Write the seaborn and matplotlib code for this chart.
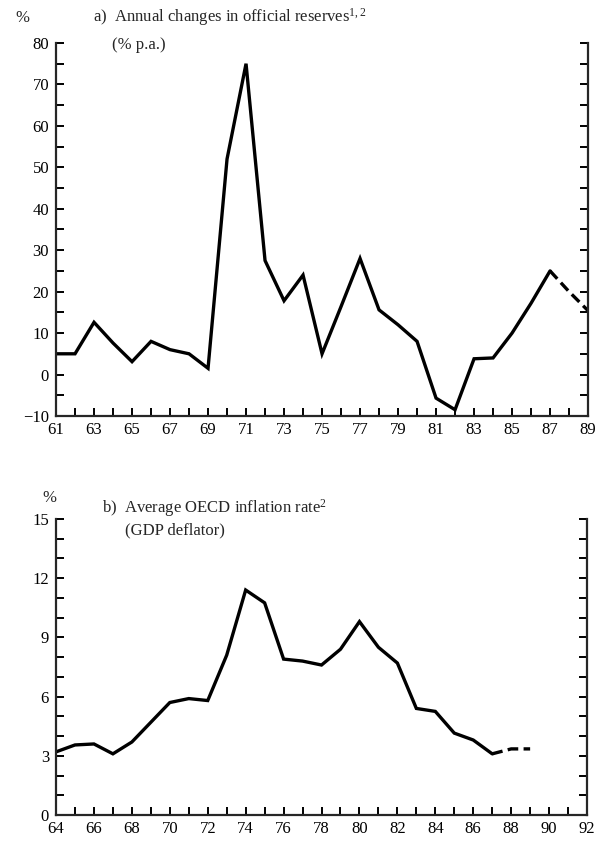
import matplotlib
matplotlib.use("Agg")
import matplotlib.pyplot as plt
from matplotlib.ticker import MultipleLocator, FixedLocator, FixedFormatter
import pandas as pd
import seaborn as sns

# a) Annual changes in official reserves (% p.a.), 1961-1989
reserve_years = list(range(61, 90))
reserve_change = [5, 5, 12.6, 7.6, 3.1, 8, 6, 5, 1.5, 52, 75, 27.5, 17.8, 24,
                  5, 16.4, 28, 15.6, 12, 8, -5.7, -8.5, 3.8, 4, 10, 17.2, 25,
                  20, 15.4]

# b) Average OECD inflation rate (GDP deflator), 1964-1989
inflation_years = list(range(64, 90))
inflation_rate = [3.2, 3.55, 3.6, 3.1, 3.7, 4.7, 5.7, 5.9, 5.8, 8.1, 11.4,
                  10.75, 7.9, 7.8, 7.6, 8.4, 9.8, 8.5, 7.7, 5.4, 5.25, 4.15,
                  3.8, 3.1, 3.35, 3.35]

# years from which the series are projections (drawn dashed)
reserve_projection_from = 87
inflation_projection_from = 87

sns.set_style("ticks")
plt.rcParams["font.family"] = ["Liberation Serif", "DejaVu Serif"]
plt.rcParams["mathtext.fontset"] = "custom"
plt.rcParams["mathtext.rm"] = "Liberation Serif"
plt.rcParams["mathtext.default"] = "rm"
plt.rcParams["axes.linewidth"] = 1.6

fig = plt.figure(figsize=(6.07, 8.41), dpi=100)
ax_a = fig.add_axes([0.0923, 0.5054, 0.8765, 0.4435])
ax_b = fig.add_axes([0.0923, 0.0309, 0.8748, 0.3520])


def draw_series(ax, years, values, split):
    df = pd.DataFrame({"year": years, "value": values})
    actual = df[df["year"] <= split]
    projected = df[df["year"] >= split]
    sns.lineplot(data=actual, x="year", y="value", ax=ax, color="black",
                 linewidth=2.4, solid_joinstyle="miter")
    sns.lineplot(data=projected, x="year", y="value", ax=ax, color="black",
                 linewidth=2.4, linestyle=(0, (3.2, 1.6)))


def style_axes(ax, xmin, xmax, ymin, ymax, ymajor, yminor, ylabels):
    ax.set_xlim(xmin, xmax)
    ax.set_ylim(ymin, ymax)
    ax.set_xlabel("")
    ax.set_ylabel("")
    sns.despine(ax=ax, top=True, right=False)
    ax.xaxis.set_minor_locator(MultipleLocator(1))
    ax.set_xticks(list(range(xmin, xmax + 1, 2)))
    ax.set_xticklabels([str(v) for v in range(xmin, xmax + 1, 2)])
    ax.yaxis.set_major_locator(FixedLocator(ymajor))
    ax.yaxis.set_major_formatter(FixedFormatter(ylabels))
    ax.yaxis.set_minor_locator(MultipleLocator(yminor))
    ax.tick_params(which="both", direction="in", length=6, width=1.4,
                   top=False, right=True, labelright=False,
                   labelsize=12, colors="black")
    ax.tick_params(axis="x", which="both", pad=4)
    ax.tick_params(axis="y", which="both", pad=5)
    ax.set_facecolor("white")


draw_series(ax_a, reserve_years, reserve_change, reserve_projection_from)
style_axes(ax_a, 61, 89, -10, 80, list(range(-10, 81, 10)), 5,
           ["\u221210"] + [str(v) for v in range(0, 81, 10)])

draw_series(ax_b, inflation_years, inflation_rate, inflation_projection_from)
style_axes(ax_b, 64, 92, 0, 15, list(range(0, 16, 3)), 1,
           [str(v) for v in range(0, 16, 3)])

# panel headings
fig.text(15 / 607, 1 - 18 / 841, "%", fontsize=12, ha="left", va="center")
fig.text(93 / 607, 1 - 17 / 841,
         r"a)  Annual changes in official reserves$^{1,2}$",
         fontsize=12, ha="left", va="center")
fig.text(112 / 607, 1 - 45 / 841, "(% p.a.)", fontsize=12,
         ha="left", va="center")

fig.text(42 / 607, 1 - 498 / 841, "%", fontsize=12, ha="left", va="center")
fig.text(102 / 607, 1 - 508 / 841,
         r"b)  Average OECD inflation rate$^{2}$",
         fontsize=12, ha="left", va="center")
fig.text(125 / 607, 1 - 530 / 841, "(GDP deflator)", fontsize=12,
         ha="left", va="center")

fig.savefig("out.png", dpi=100, facecolor="white")
